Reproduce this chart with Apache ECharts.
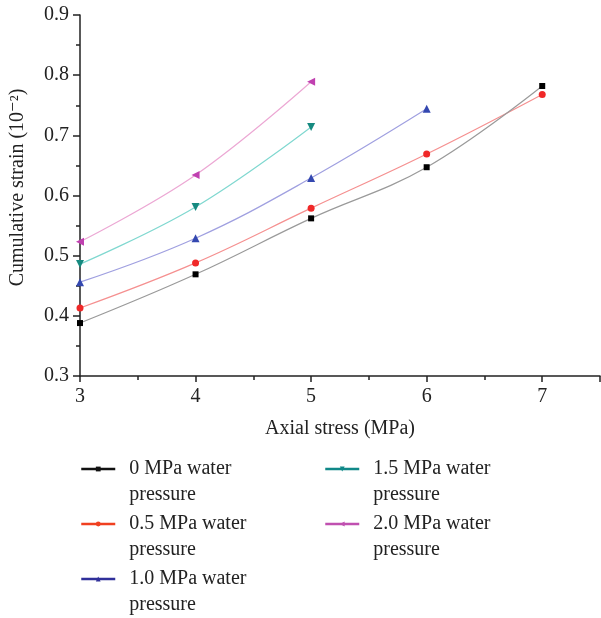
<!DOCTYPE html>
<html>
<head>
<meta charset="utf-8">
<script src="https://cdn.jsdelivr.net/npm/echarts@6/dist/echarts.min.js"></script>
<style>
html, body { margin: 0; padding: 0; background: #fff; }
#chart { width: 601px; height: 618px; }
</style>
</head>
<body>
<div id="chart"></div>
<script>
// axial stress (MPa)
const stress = [3, 4, 5, 6, 7]
const names = [
  '0 MPa water pressure',
  '0.5 MPa water pressure',
  '1.0 MPa water pressure',
  '1.5 MPa water pressure',
  '2.0 MPa water pressure'
]
// cumulative strain (10^-2)
const strain0 = [0.388, 0.469, 0.562, 0.647, 0.782]
const strain05 = [0.413, 0.488, 0.579, 0.669, 0.768]
const strain10 = [0.456, 0.529, 0.629, 0.744]
const strain15 = [0.486, 0.581, 0.714]
const strain20 = [0.523, 0.634, 0.789]

const values = [strain0, strain05, strain10, strain15, strain20]
const markColor = ['#000000', '#f02828', '#3448b0', '#168a80', '#c040b0']
const lineColor = ['#9a9a9a', '#f59090', '#a0a0e0', '#80d8d0', '#eca8d4']
const legendColor = ['#111111', '#f04020', '#30309a', '#108888', '#c050b0']
const symbols = ['rect', 'circle', 'triangle', 'triangle', 'triangle']
const rotates = [0, 0, 0, 180, 90]
const sizes = [6, 7, 8, 8, 8]

const chart = echarts.init(document.getElementById('chart'))
const serif = '"Liberation Serif", "DejaVu Serif", serif'

function legendBlock(idx, left) {
  return {
    orient: 'vertical',
    left: left,
    top: 433,
    height: 185,
    padding: 0,
    itemWidth: 34,
    itemHeight: 6,
    itemGap: -17,
    data: idx.map(i => ({
      name: names[i],
      itemStyle: { color: legendColor[i] },
      lineStyle: { color: legendColor[i], width: 2.5 }
    })),
    // blank first line so the icon sits beside the first text line
    formatter: n => '{s| }\n{a|' + n.replace(' pressure', '}\n{a|pressure}'),
    textStyle: {
      rich: {
        s: { fontSize: 20, lineHeight: 26 },
        a: {
          fontFamily: serif,
          fontSize: 20,
          color: '#222',
          lineHeight: 26,
          padding: [0, 0, 0, 9]
        }
      }
    }
  }
}

function createSeries() {
  let series = []
  for (let i = 0; i < names.length; i++) {
    series.push({
      name: names[i],
      type: 'line',
      smooth: 0.4,
      data: values[i].map((v, k) => [stress[k], v]),
      symbol: symbols[i],
      symbolSize: sizes[i],
      symbolRotate: rotates[i],
      showAllSymbol: true,
      itemStyle: { color: markColor[i] },
      lineStyle: { color: lineColor[i], width: 1.2 },
      z: 10 - i
    })
  }
  return series
}

chart.setOption({
  backgroundColor: '#fff',
  animation: false,
  grid: { left: 80, right: 1, top: 15, bottom: 242, containLabel: false },
  legend: [legendBlock([0, 1, 2], 80), legendBlock([3, 4], 324)],
  xAxis: {
    type: 'value',
    min: 3,
    max: 7.5,
    interval: 1,
    name: 'Axial stress (MPa)',
    nameLocation: 'middle',
    nameGap: 43,
    nameTextStyle: { fontFamily: serif, fontSize: 20, color: '#222' },
    axisLine: { lineStyle: { color: '#222', width: 1.5 } },
    axisTick: { show: true, length: 6, lineStyle: { color: '#222', width: 1.5 } },
    minorTick: { show: true, splitNumber: 2, length: 4, lineStyle: { color: '#222', width: 1.5 } },
    axisLabel: { fontFamily: serif, fontSize: 20, color: '#222', margin: 11, showMaxLabel: false },
    splitLine: { show: false }
  },
  yAxis: {
    type: 'value',
    min: 0.3,
    max: 0.9,
    interval: 0.1,
    name: 'Cumulative strain (10\u207B\u00B2)',
    nameLocation: 'middle',
    nameGap: 52,
    nameTextStyle: { fontFamily: serif, fontSize: 20, color: '#222', padding: [0, 0, 0, 16] },
    axisLine: { show: true, lineStyle: { color: '#222', width: 1.5 } },
    axisTick: { show: true, length: 7, lineStyle: { color: '#222', width: 1.5 } },
    minorTick: { show: true, splitNumber: 2, length: 4, lineStyle: { color: '#222', width: 1.5 } },
    axisLabel: {
      fontFamily: serif, fontSize: 20, color: '#222', margin: 11,
      formatter: v => v.toFixed(1)
    },
    splitLine: { show: false }
  },
  series: createSeries()
})
</script>
</body>
</html>
